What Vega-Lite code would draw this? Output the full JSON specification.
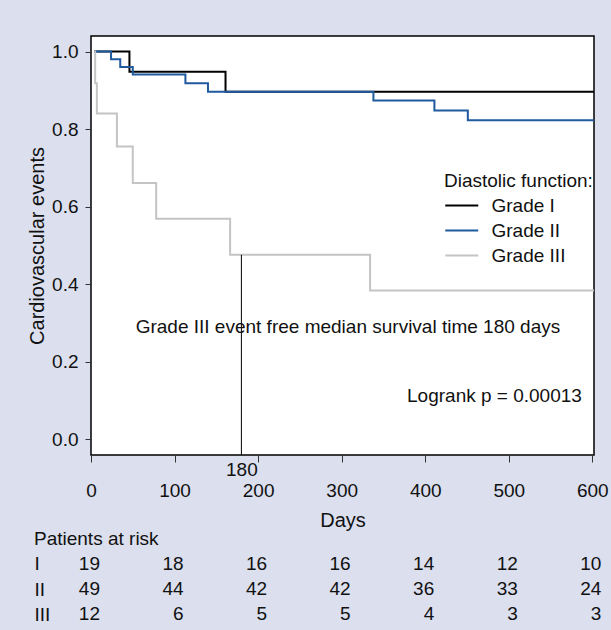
{
  "$schema": "https://vega.github.io/schema/vega-lite/v6.json",
  "background": "#dbdfee",
  "padding": {"left": 26, "top": 35, "right": 10, "bottom": 5},
  "config": {
    "font": "Liberation Sans, Arial, sans-serif",
    "view": {"stroke": "#000000", "strokeWidth": 1.5, "fill": "white"},
    "axis": {"labelColor": "#111", "titleColor": "#111", "tickColor": "#333", "labelFontSize": 19, "titleFontSize": 20, "titleFontWeight": "normal"}
  },
  "spacing": -1,
  "vconcat": [
    {
      "width": 503,
      "height": 419,
      "layer": [
        {
          "data": {"values": [
            {"grade": "Grade I", "day": 4, "surv": 1.0},
            {"grade": "Grade I", "day": 46, "surv": 0.948},
            {"grade": "Grade I", "day": 161, "surv": 0.896},
            {"grade": "Grade I", "day": 602, "surv": 0.896},
            {"grade": "Grade II", "day": 4, "surv": 1.0},
            {"grade": "Grade II", "day": 24, "surv": 0.98},
            {"grade": "Grade II", "day": 35, "surv": 0.96},
            {"grade": "Grade II", "day": 50, "surv": 0.941},
            {"grade": "Grade II", "day": 113, "surv": 0.918},
            {"grade": "Grade II", "day": 140, "surv": 0.896},
            {"grade": "Grade II", "day": 338, "surv": 0.874},
            {"grade": "Grade II", "day": 411, "surv": 0.848},
            {"grade": "Grade II", "day": 451, "surv": 0.823},
            {"grade": "Grade II", "day": 602, "surv": 0.823},
            {"grade": "Grade III", "day": 4, "surv": 1.0},
            {"grade": "Grade III", "day": 5, "surv": 0.918},
            {"grade": "Grade III", "day": 7, "surv": 0.84},
            {"grade": "Grade III", "day": 31, "surv": 0.755},
            {"grade": "Grade III", "day": 50, "surv": 0.661},
            {"grade": "Grade III", "day": 78, "surv": 0.569},
            {"grade": "Grade III", "day": 166.5, "surv": 0.476},
            {"grade": "Grade III", "day": 334, "surv": 0.384},
            {"grade": "Grade III", "day": 602, "surv": 0.384}
          ]},
          "mark": {"type": "line", "interpolate": "step-after", "strokeWidth": 2},
          "encoding": {
            "x": {"field": "day", "type": "quantitative"},
            "y": {"field": "surv", "type": "quantitative"},
            "color": {
              "field": "grade", "type": "nominal",
              "scale": {"domain": ["Grade I", "Grade II", "Grade III"], "range": ["#000000", "#1f5a9e", "#c4c4c4"]},
              "legend": {
                "orient": "none", "legendX": 353, "legendY": 136,
                "title": "Diastolic function:", "titleFontSize": 19, "titleFontWeight": "normal", "titleColor": "#111",
                "labelFontSize": 19, "labelColor": "#111", "symbolType": "M-1,0H3", "symbolSize": 272,
                "symbolStrokeWidth": 2, "labelOffset": 28.5, "rowPadding": 5, "titlePadding": 5
              }
            }
          }
        },
        {
          "data": {"values": [{"day": 180, "top": 0.476, "bottom": -0.04}]},
          "mark": {"type": "rule", "color": "#000000", "strokeWidth": 1},
          "encoding": {
            "x": {"field": "day", "type": "quantitative"},
            "y": {"field": "top", "type": "quantitative"},
            "y2": {"field": "bottom"}
          }
        },
        {
          "data": {"values": [
            {"day": 307.5, "surv": 0.289, "label": "Grade III event free median survival time 180 days"}
          ]},
          "mark": {"type": "text", "fontSize": 19, "align": "center", "baseline": "middle", "color": "#111"},
          "encoding": {
            "x": {"field": "day", "type": "quantitative"},
            "y": {"field": "surv", "type": "quantitative"},
            "text": {"field": "label"}
          }
        },
        {
          "data": {"values": [
            {"day": 587.5, "surv": 0.112, "label": "Logrank p = 0.00013"}
          ]},
          "mark": {"type": "text", "fontSize": 19, "align": "right", "baseline": "middle", "color": "#111"},
          "encoding": {
            "x": {"field": "day", "type": "quantitative"},
            "y": {"field": "surv", "type": "quantitative"},
            "text": {"field": "label"}
          }
        }
      ],
      "encoding": {
        "x": {
          "field": "day", "type": "quantitative",
          "scale": {"domain": [0, 602], "nice": false, "zero": false},
          "axis": {
            "title": "Days", "values": [0, 100, 180, 200, 300, 400, 500, 600], "grid": false, "domain": false,
            "tickSize": 7, "labelFlush": false, "labelOverlap": false, "titlePadding": 10,
            "labelPadding": {"condition": {"test": "datum.value === 180", "value": -2}, "value": 19},
            "tickOpacity": {"condition": {"test": "datum.value === 180", "value": 0}, "value": 1}
          }
        },
        "y": {
          "field": "surv", "type": "quantitative",
          "scale": {"domain": [-0.04, 1.04], "nice": false, "zero": false},
          "axis": {
            "title": "Cardiovascular events", "values": [0, 0.2, 0.4, 0.6, 0.8, 1.0], "format": ".1f",
            "grid": false, "domain": false, "tickSize": 6, "labelPadding": 7, "titlePadding": 4
          }
        }
      }
    },
    {
      "width": 503,
      "height": 76,
      "view": {"stroke": null, "fill": null},
      "title": {"text": "Patients at risk", "anchor": "start", "frame": "bounds", "fontSize": 19, "fontWeight": "normal", "color": "#111", "offset": 2},
      "data": {"values": [
        {"grade": "I", "day": 0, "n": 19}, {"grade": "I", "day": 100, "n": 18}, {"grade": "I", "day": 200, "n": 16},
        {"grade": "I", "day": 300, "n": 16}, {"grade": "I", "day": 400, "n": 14}, {"grade": "I", "day": 500, "n": 12},
        {"grade": "I", "day": 600, "n": 10},
        {"grade": "II", "day": 0, "n": 49}, {"grade": "II", "day": 100, "n": 44}, {"grade": "II", "day": 200, "n": 42},
        {"grade": "II", "day": 300, "n": 42}, {"grade": "II", "day": 400, "n": 36}, {"grade": "II", "day": 500, "n": 33},
        {"grade": "II", "day": 600, "n": 24},
        {"grade": "III", "day": 0, "n": 12}, {"grade": "III", "day": 100, "n": 6}, {"grade": "III", "day": 200, "n": 5},
        {"grade": "III", "day": 300, "n": 5}, {"grade": "III", "day": 400, "n": 4}, {"grade": "III", "day": 500, "n": 3},
        {"grade": "III", "day": 600, "n": 3}
      ]},
      "mark": {"type": "text", "align": "right", "dx": 9, "fontSize": 19, "color": "#111", "baseline": "middle"},
      "encoding": {
        "x": {"field": "day", "type": "quantitative", "scale": {"domain": [0, 602], "nice": false, "zero": false}, "axis": null},
        "y": {
          "field": "grade", "type": "ordinal", "sort": ["I", "II", "III"],
          "axis": {"title": null, "domain": false, "ticks": false, "tickSize": 0, "labelAlign": "left", "labelPadding": 57, "labelFontSize": 19}
        },
        "text": {"field": "n"}
      }
    }
  ]
}
